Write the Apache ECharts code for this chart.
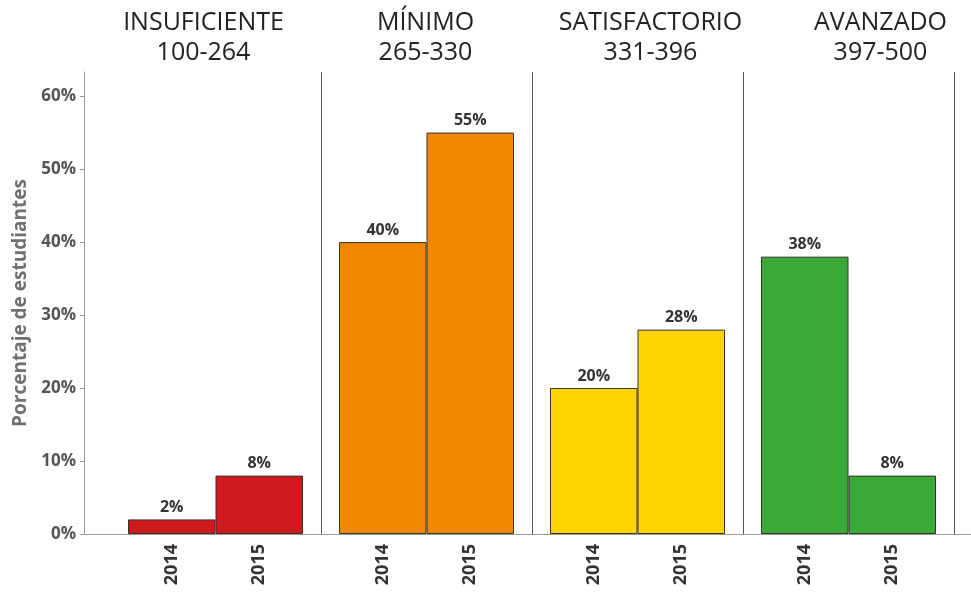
<!DOCTYPE html>
<html>
<head>
<meta charset="utf-8">
<script src="https://cdn.jsdelivr.net/npm/echarts@6/dist/echarts.min.js"></script>
<style>
  html, body { margin: 0; padding: 0; background: #fff; }
  #chart { width: 971px; height: 592px; }
</style>
</head>
<body>
<div id="chart"></div>
<script>
// data
const levels = ['INSUFICIENTE', 'MÍNIMO', 'SATISFACTORIO', 'AVANZADO'];
const ranges = ['100-264', '265-330', '331-396', '397-500'];
const years = ['2014', '2015'];
const values2014 = [2, 40, 20, 38];
const values2015 = [8, 55, 28, 8];
const levelColors = ['#D0191C', '#F08800', '#FFD400', '#3BA935'];

// layout
const FONT = '"Open Sans", "DejaVu Sans", sans-serif';
const TOP = 72, BOTTOM = 58;
const PANEL_W = 211, PANEL_LEFT = 110, BAR_PAIR = 175;
const Y_MAX = 63.3;
// the strip titles sit a little off the panel centres in the original
const titleShift = [-17, -6, 8, 27];

const chart = echarts.init(document.getElementById('chart'));

const grids = [
  // base: y axis and the long bottom line
  { left: 84, right: 0, top: TOP, bottom: BOTTOM },
  // frame: panel separators
  { left: PANEL_LEFT, width: PANEL_W * levels.length, top: TOP, bottom: BOTTOM }
];
const xAxes = [
  { gridIndex: 0, type: 'value', min: 0, max: 1,
    axisLine: { show: true, lineStyle: { color: '#9a9a9a', width: 1 } },
    axisTick: { show: false }, axisLabel: { show: false }, splitLine: { show: false } },
  { gridIndex: 1, type: 'value', min: 0, max: levels.length, interval: 1,
    axisLine: { show: false }, axisTick: { show: false }, axisLabel: { show: false },
    splitLine: { show: true, showMinLine: false, showMaxLine: true,
      lineStyle: { color: '#555', width: 1 } } }
];
const yAxes = [
  { gridIndex: 0, type: 'value', min: 0, max: Y_MAX, interval: 10,
    name: 'Porcentaje de estudiantes', nameLocation: 'middle', nameGap: 48,
    nameTextStyle: { fontFamily: FONT, fontSize: 19, fontWeight: 'bold', color: '#707070' },
    axisLine: { show: true, lineStyle: { color: '#9a9a9a' } },
    axisTick: { show: true, length: 4, lineStyle: { color: '#9a9a9a' } },
    axisLabel: { showMaxLabel: false, margin: 8, fontFamily: FONT, fontSize: 17,
      fontWeight: 'bold', color: '#555',
      formatter: v => (v % 10 === 0 ? v + '%' : '') },
    splitLine: { show: false } },
  { gridIndex: 1, type: 'value', min: 0, max: Y_MAX, show: false }
];

const series = [];
const titles = [];
levels.forEach((lvl, i) => {
  const gi = grids.length;
  const centre = PANEL_LEFT + PANEL_W * i + PANEL_W / 2;
  grids.push({ left: centre - BAR_PAIR / 2, width: BAR_PAIR, top: TOP, bottom: BOTTOM });
  xAxes.push({ gridIndex: gi, type: 'category', data: years,
    axisLine: { show: false }, axisTick: { show: false },
    axisLabel: { rotate: 90, margin: 10, fontFamily: FONT, fontSize: 18,
      fontWeight: 'bold', color: '#333' } });
  yAxes.push({ gridIndex: gi, type: 'value', min: 0, max: Y_MAX, show: false });
  series.push({
    type: 'bar', xAxisIndex: gi, yAxisIndex: gi,
    data: [values2014[i], values2015[i]],
    barCategoryGap: '0%',
    itemStyle: { color: levelColors[i], borderColor: '#333', borderWidth: 1 },
    label: { show: true, position: 'top', distance: 4, formatter: '{c}%',
      fontFamily: FONT, fontSize: 16, fontWeight: 'bold', color: '#333' },
    emphasis: { disabled: true }
  });
  titles.push({ text: lvl + '\n' + ranges[i], left: centre + titleShift[i],
    textAlign: 'center', top: 3,
    textStyle: { fontFamily: FONT, fontSize: 25, fontWeight: 'normal', color: '#222',
      lineHeight: 30 } });
});

chart.setOption({
  animation: false,
  title: titles,
  grid: grids,
  xAxis: xAxes,
  yAxis: yAxes,
  series: series
});
</script>
</body>
</html>
